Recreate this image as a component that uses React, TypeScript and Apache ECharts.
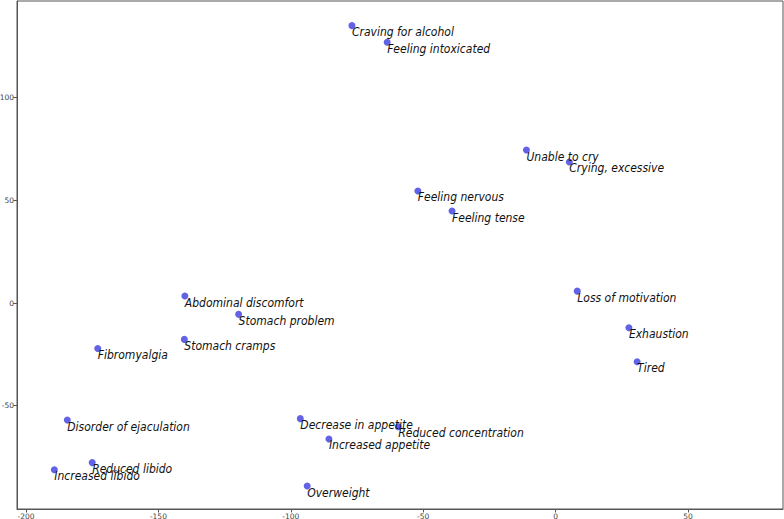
import React, { useEffect, useRef } from "react";
import * as echarts from "echarts";

const labels = [
  "Craving for alcohol", "Feeling intoxicated", "Unable to cry", "Crying, excessive",
  "Feeling nervous", "Feeling tense", "Loss of motivation", "Exhaustion", "Tired",
  "Abdominal discomfort", "Stomach problem", "Stomach cramps", "Fibromyalgia",
  "Disorder of ejaculation", "Reduced libido", "Increased libido",
  "Decrease in appetite", "Reduced concentration", "Increased appetite", "Overweight",
];
const xValues = [
  -76.9, -63.6, -11.0, 5.2,
  -52.0, -39.1, 8.2, 27.7, 30.8,
  -140.0, -119.7, -140.2, -172.9,
  -184.4, -175.0, -189.3,
  -96.4, -59.4, -85.6, -93.8,
];
const yValues = [
  135.1, 127.0, 74.5, 68.7,
  54.6, 44.8, 5.8, -12.0, -28.6,
  3.4, -5.5, -17.7, -22.1,
  -57.0, -77.7, -81.2,
  -56.3, -60.2, -66.2, -89.1,
];
const xTicks = [-200, -150, -100, -50, 0, 50];
const yTicks = [-50, 0, 50, 100];

export default function App() {
  const ref = useRef<HTMLDivElement>(null);
  useEffect(() => {
    if (!ref.current) return;
    const chart = echarts.init(ref.current, null, { renderer: "svg" });
    const data = labels.map((name, i) => ({ name, value: [xValues[i], yValues[i]] }));
    const axisCommon = {
      type: "value" as const,
      splitLine: { show: false },
      axisLine: { show: true, onZero: false, lineStyle: { color: "#555", width: 1 } },
      axisTick: { show: true, length: 3.5, lineStyle: { color: "#555" } },
    };
    chart.setOption({
      animation: false,
      backgroundColor: "#fff",
      grid: { left: 17, right: 1, top: 1, bottom: 10, outerBoundsMode: "none", show: true, borderColor: "#555", borderWidth: 1 },
      xAxis: {
        ...axisCommon,
        min: -203.4,
        max: 85.9,
        axisTick: { ...axisCommon.axisTick, customValues: xTicks },
        axisLabel: { customValues: xTicks, fontSize: 7.5, color: "#444", margin: 3, fontFamily: "DejaVu Sans" },
      },
      yAxis: {
        ...axisCommon,
        min: -100.3,
        max: 147.1,
        axisTick: { ...axisCommon.axisTick, customValues: yTicks },
        axisLabel: { customValues: yTicks, fontSize: 7.5, color: "#444", margin: 3, fontFamily: "DejaVu Sans" },
      },
      series: [
        {
          type: "scatter",
          data,
          symbolSize: 7,
          itemStyle: { color: "#6262e6", opacity: 1 },
          label: {
            show: true,
            formatter: (p: any) => p.name,
            position: [3.5, 4],
            align: "left",
            verticalAlign: "top",
            fontSize: 12,
            fontStyle: "italic",
            fontFamily: "'DejaVu Sans Condensed', 'Liberation Sans', sans-serif",
            color: "#111",
          },
          labelLayout: { hideOverlap: false },
        },
      ],
    });
    return () => chart.dispose();
  }, []);
  return <div ref={ref} style={{ position: "fixed", left: 0, top: 0, width: 784, height: 519 }} />;
}
